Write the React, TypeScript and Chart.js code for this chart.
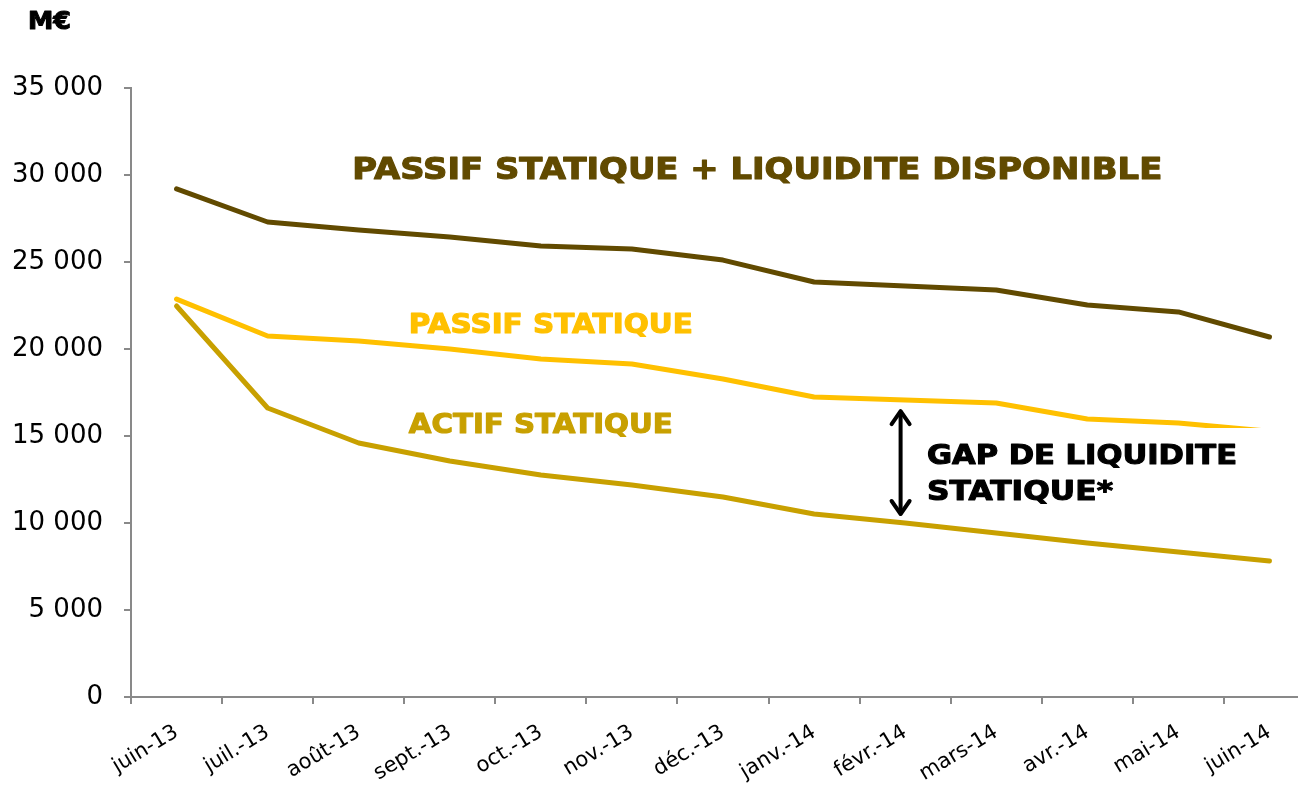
import React, { useEffect, useRef } from "react";
import { Chart, registerables } from "chart.js";

Chart.register(...registerables);

const categories = [
  "juin-13", "juil.-13", "août-13", "sept.-13", "oct.-13", "nov.-13", "déc.-13",
  "janv.-14", "févr.-14", "mars-14", "avr.-14", "mai-14", "juin-14",
];
const passifLiquidite = [29200, 27300, 26840, 26440, 25920, 25750, 25110, 23850, 23620, 23390, 22530, 22130, 20690];
const passifStatique = [22870, 20750, 20460, 20000, 19430, 19140, 18280, 17240, 17070, 16900, 15980, 15750, 15270];
const actifStatique = [22470, 16610, 14600, 13560, 12760, 12180, 11490, 10520, 10000, 9430, 8850, 8330, 7820];
const yTicks = [0, 5000, 10000, 15000, 20000, 25000, 30000, 35000];

const COL_DARK = "#614A00";
const COL_PASSIF = "#FFC000";
const COL_ACTIF = "#C8A000";
const AXIS = "#898989";
const FONT = "'DejaVu Sans', Verdana, sans-serif";

const fmt = (v: number) => String(v).replace(/\B(?=(\d{3})+(?!\d))/g, " ");

// annotations placed in data coordinates (category index, value); w = rendered text width
const labels = [
  { text: "PASSIF STATIQUE + LIQUIDITE DISPONIBLE", color: COL_DARK, size: 30, idx: 1.93, val: 29770, w: 810 },
  { text: "PASSIF STATIQUE", color: COL_PASSIF, size: 27, idx: 2.55, val: 20920, w: 284 },
  { text: "ACTIF STATIQUE", color: COL_ACTIF, size: 27, idx: 2.55, val: 15170, w: 264 },
  { text: "GAP DE LIQUIDITE", color: "#000000", size: 27, idx: 8.24, val: 13390, w: 310 },
  { text: "STATIQUE*", color: "#000000", size: 27, idx: 8.24, val: 11320, w: 186 },
];
const arrow = { idx: 7.95, top: 16490, bottom: 10460 };
const maskBox = { idx: 8.05, top: 15460, bottom: 10900 };

const drawStretched = (ctx: CanvasRenderingContext2D, text: string, x: number, y: number, w: number, color: string) => {
  const m = ctx.measureText(text).width;
  const sx = m > 0 ? w / m : 1;
  ctx.save();
  ctx.translate(x, y);
  ctx.scale(sx, 1);
  ctx.fillStyle = color;
  ctx.strokeStyle = color;
  ctx.lineWidth = 1.1;
  ctx.lineJoin = "round";
  ctx.fillText(text, 0, 0);
  ctx.strokeText(text, 0, 0);
  ctx.restore();
};

const annotationPlugin = {
  id: "annot",
  afterDatasetsDraw(chart: any) {
    const { ctx, scales } = chart;
    const x = scales.x;
    const y = scales.y;
    ctx.save();
    // white text box behind the gap label
    const bx = x.getPixelForValue(maskBox.idx);
    const by = y.getPixelForValue(maskBox.top);
    const bb = y.getPixelForValue(maskBox.bottom);
    ctx.fillStyle = "#ffffff";
    ctx.fillRect(bx, by, chart.width - bx, bb - by);

    // double arrow
    const ax = x.getPixelForValue(arrow.idx);
    const at = y.getPixelForValue(arrow.top);
    const ab = y.getPixelForValue(arrow.bottom);
    ctx.strokeStyle = "#000";
    ctx.lineWidth = 4;
    ctx.lineCap = "round";
    ctx.lineJoin = "round";
    ctx.beginPath();
    ctx.moveTo(ax, at + 2);
    ctx.lineTo(ax, ab - 2);
    ctx.stroke();
    ctx.beginPath();
    ctx.moveTo(ax - 9, at + 14);
    ctx.lineTo(ax, at + 1);
    ctx.lineTo(ax + 9, at + 14);
    ctx.stroke();
    ctx.beginPath();
    ctx.moveTo(ax - 9, ab - 14);
    ctx.lineTo(ax, ab - 1);
    ctx.lineTo(ax + 9, ab - 14);
    ctx.stroke();

    ctx.textAlign = "left";
    ctx.textBaseline = "alphabetic";
    for (const l of labels) {
      ctx.font = `bold ${l.size}px ${FONT}`;
      drawStretched(ctx, l.text, x.getPixelForValue(l.idx), y.getPixelForValue(l.val), l.w, l.color);
    }
    ctx.font = `bold 25px ${FONT}`;
    drawStretched(ctx, "M€", 28, 29, 43, "#000");
    ctx.restore();
  },
};

export default function App() {
  const ref = useRef<HTMLCanvasElement | null>(null);
  useEffect(() => {
    if (!ref.current) return;
    const ds = (label: string, data: number[], color: string) => ({
      label,
      data,
      borderColor: color,
      backgroundColor: color,
      borderWidth: 5,
      pointRadius: 0,
      tension: 0,
      borderCapStyle: "round" as const,
      borderJoinStyle: "round" as const,
    });
    const chart = new Chart(ref.current, {
      type: "line",
      data: {
        labels: categories,
        datasets: [
          ds("Actif statique", actifStatique, COL_ACTIF),
          ds("Passif statique", passifStatique, COL_PASSIF),
          ds("Passif statique + liquidité disponible", passifLiquidite, COL_DARK),
        ],
      },
      options: {
        animation: false,
        responsive: false,
        devicePixelRatio: 1,
        layout: { padding: { top: 88, left: 0, right: 0, bottom: 0 } },
        plugins: { legend: { display: false }, tooltip: { enabled: false }, title: { display: false } },
        scales: {
          x: {
            type: "category",
            offset: true,
            grid: { display: true, offset: true, drawOnChartArea: false, drawTicks: true, tickLength: 7, color: AXIS, lineWidth: 2 },
            border: { display: true, color: AXIS, width: 2 },
            ticks: {
              color: "#000",
              font: { family: FONT, size: 21 },
              minRotation: 31,
              maxRotation: 31,
              autoSkip: false,
              padding: 16,
            },
            afterFit(scale: any) {
              scale.height = 88;
            },
          },
          y: {
            min: 0,
            max: 35000,
            afterBuildTicks(scale: any) {
              scale.ticks = yTicks.map((v) => ({ value: v }));
            },
            grid: { display: true, drawOnChartArea: false, drawTicks: true, tickLength: 7, color: AXIS, lineWidth: 2 },
            border: { display: true, color: AXIS, width: 2 },
            ticks: {
              color: "#000",
              font: { family: FONT, size: 26 },
              padding: 21,
              callback: (v: any) => fmt(Number(v)),
            },
            afterFit(scale: any) {
              scale.width = 131;
            },
          },
        },
      },
      plugins: [annotationPlugin],
    });
    return () => chart.destroy();
  }, []);
  return (
    <div style={{ position: "absolute", left: 0, top: 0, width: 1298, height: 785, overflow: "hidden", background: "#fff" }}>
      <canvas ref={ref} width={1315} height={785} style={{ display: "block" }} />
    </div>
  );
}
